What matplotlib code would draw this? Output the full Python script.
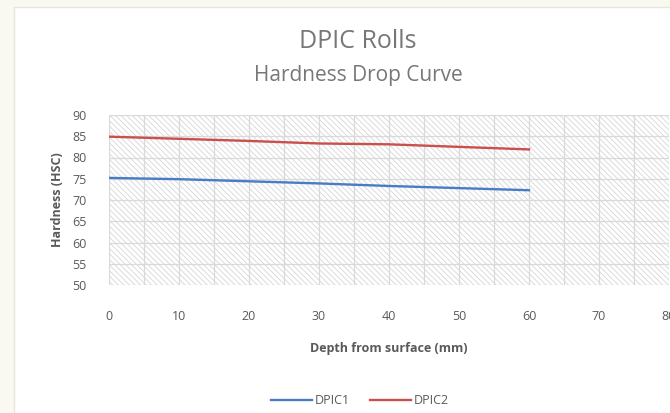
import matplotlib.pyplot as plt
from matplotlib.patches import Rectangle
from matplotlib.ticker import MultipleLocator

plt.rcParams["font.family"] = ["Open Sans", "DejaVu Sans"]
plt.rcParams["hatch.linewidth"] = 0.6

depth = [0, 10, 20, 30, 40, 50, 60]
dpic1 = [75.2, 74.9, 74.4, 73.9, 73.3, 72.8, 72.3]
dpic2 = [84.9, 84.4, 83.9, 83.3, 83.1, 82.5, 81.9]
series_names = ["DPIC1", "DPIC2"]

TXT = "#595959"
GRID = "#d9d9d9"

fig = plt.figure(figsize=(6.7, 4.13), dpi=100, facecolor="#f9f9f1")
# white card behind the chart
fig.patches.append(Rectangle((14 / 670, 0), 1, 1 - 7 / 413, transform=fig.transFigure,
                             facecolor="white", edgecolor="#e6e6dc", linewidth=1, zorder=-5))

ax = fig.add_axes([109 / 670, 1 - 285 / 413, 560 / 670, 170 / 413])
ax.set_facecolor("white")
ax.add_patch(Rectangle((0, 0), 1, 1, transform=ax.transAxes, facecolor="white",
                       edgecolor="#d6d6d6", hatch="\\\\\\\\\\\\", linewidth=0, zorder=0))

ax.plot(depth, dpic1, color="#4a7cc6", lw=1.7, label=series_names[0], zorder=3)
ax.plot(depth, dpic2, color="#c9504c", lw=1.7, label=series_names[1], zorder=3)

ax.set_xlim(0, 80)
ax.set_ylim(50, 90)
ax.xaxis.set_major_locator(MultipleLocator(10))
ax.xaxis.set_minor_locator(MultipleLocator(5))
ax.yaxis.set_major_locator(MultipleLocator(5))
ax.grid(True, which="both", axis="x", color=GRID, lw=0.9, zorder=1)
ax.grid(True, which="major", axis="y", color=GRID, lw=0.9, zorder=1)
ax.set_axisbelow(True)
for s in ax.spines.values():
    s.set_visible(False)
ax.tick_params(which="both", length=0, labelsize=9, labelcolor=TXT)
ax.tick_params(axis="x", pad=18)
ax.tick_params(axis="y", pad=16)

ax.set_xlabel("Depth from surface (mm)", fontsize=9, fontweight="bold", color=TXT, labelpad=14)
ax.set_ylabel("Hardness (HSC)", fontsize=9, fontweight="bold", color=TXT, labelpad=6)

fig.text(358 / 670, 1 - 41 / 413, "DPIC Rolls", ha="center", va="center", fontsize=18, color="#777777")
fig.text(358 / 670, 1 - 76 / 413, "Hardness Drop Curve", ha="center", va="center", fontsize=15, color="#777777")

fig.legend(loc="center", bbox_to_anchor=(360 / 670, 1 - 401 / 413), ncol=2, frameon=False,
           fontsize=9, labelcolor=TXT, handlelength=3.3, columnspacing=1.6, handletextpad=0.2)

fig.savefig("out.png", dpi=100, facecolor=fig.get_facecolor())
